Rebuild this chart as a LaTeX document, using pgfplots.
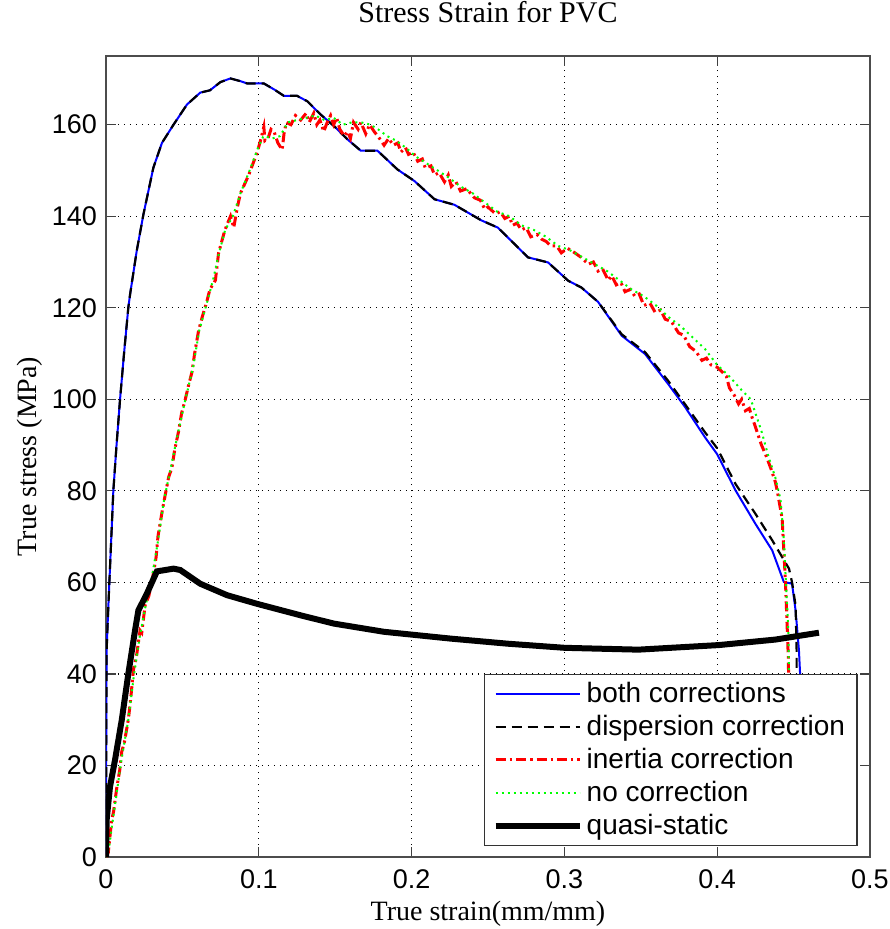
\documentclass[border=0pt]{standalone}
\usepackage{fontspec}
\setmainfont{Liberation Sans}
\newfontfamily\serif{Liberation Serif}
\usepackage{pgfplots}
\pgfplotsset{compat=1.18}

\begin{document}
\begin{tikzpicture}
\begin{axis}[
scale only axis,
width=382pt, height=400.5pt,
xmin=0, xmax=0.5, ymin=0, ymax=175,
xtick={0,0.1,0.2,0.3,0.4,0.5},
ytick={0,20,40,60,80,100,120,140,160},
xticklabels={0,0.1,0.2,0.3,0.4,0.5},
/pgf/number format/assume math mode=true,
tick align=inside,
major tick length=5pt,
tick style={draw=black!75, line width=0.6pt},
axis line style={draw=black!70, line width=0.7pt},
grid=major,
grid style={draw=black, line width=0.6pt, dash pattern=on 0.6pt off 2.4pt},
ticklabel style={font=\fontsize{13.5}{15}\selectfont},
xticklabel style={yshift=-3pt},
yticklabel style={xshift=-1pt},
title={\serif\fontsize{15}{17}\selectfont Stress Strain for PVC},
title style={at={(axis description cs:0.5,1.04)}, anchor=center},
xlabel={\serif\fontsize{14}{16}\selectfont True strain(mm/mm)},
ylabel={\serif\fontsize{14}{16}\selectfont True stress (MPa)},
xlabel style={at={(axis description cs:0.5,-0.071)}, anchor=center},
ylabel style={at={(axis description cs:-0.1,0.5)}, anchor=center},
legend style={at={(0.984,0.0137)}, anchor=south east, draw=black!80, line width=0.7pt,
  fill=white, font=\fontsize{14}{16}\selectfont, row sep=0.8pt, inner xsep=4pt, inner ysep=2pt,
  cells={anchor=west}},
legend image code/.code={\draw[#1] (0pt,0pt) -- (42pt,0pt);},
legend cell align=left,
clip=true,
]
% both corrections
\addplot[blue, line width=1pt] coordinates {
(0,0) (0.0002,30) (0.0004,45) (0.0012,52) (0.0022,60) (0.0035,70) (0.0048,80)
(0.0069,90) (0.0092,100) (0.0118,110) (0.0146,120) (0.0158,123) (0.0201,132.4)
(0.0245,140.4) (0.031,150.6) (0.0366,156) (0.0442,160) (0.053,164.4) (0.0617,167)
(0.068,167.5) (0.0749,169.3) (0.0814,170.1) (0.088,169.5) (0.0924,169) (0.1033,169)
(0.11,167.7) (0.1164,166.3) (0.125,166.3) (0.1318,165.1) (0.1405,162.2) (0.1492,159.7)
(0.158,156.8) (0.1668,154.3) (0.1777,154.3) (0.1908,150.2) (0.2018,147.7) (0.215,143.7)
(0.228,142.5) (0.2456,139.1) (0.2565,137.5) (0.2674,133.9) (0.2762,131) (0.2893,129.9)
(0.3025,125.9) (0.3112,124.4) (0.322,121.3) (0.3375,113.9) (0.3528,109.9) (0.368,103.3)
(0.379,98.3) (0.392,91.7) (0.4,88) (0.412,80.1) (0.425,72.8) (0.436,67) (0.4436,60.1)
(0.449,59.7) (0.4513,53.9) (0.4535,45.2) (0.455,35)
};
\addlegendentry{both corrections}
% dispersion correction
\addplot[black, line width=1.1pt, dash pattern=on 5pt off 3pt] coordinates {
(0,0) (0.0002,30) (0.0004,45) (0.0012,52) (0.0022,60) (0.0035,70) (0.0048,80)
(0.0069,90) (0.0092,100) (0.0118,110) (0.0146,120) (0.0158,123) (0.0201,132.4)
(0.0245,140.4) (0.031,150.6) (0.0366,156) (0.0442,160) (0.053,164.4) (0.0617,167)
(0.068,167.5) (0.0749,169.3) (0.0814,170.1) (0.088,169.5) (0.0924,169) (0.1033,169)
(0.11,167.7) (0.1164,166.3) (0.125,166.3) (0.1318,165.1) (0.1405,162.2) (0.1492,159.7)
(0.158,156.8) (0.1668,154.3) (0.1777,154.3) (0.1908,150.2) (0.2018,147.7) (0.215,143.7)
(0.228,142.5) (0.2456,139.1) (0.2565,137.5) (0.2674,133.9) (0.2762,131) (0.2893,129.9)
(0.3025,125.9) (0.3112,124.4) (0.322,121.3) (0.3375,114.2) (0.3528,110.3) (0.368,104)
(0.379,98.9) (0.392,92.8) (0.4,89.3) (0.412,81.5) (0.425,75) (0.436,69.2) (0.447,63)
(0.449,60) (0.4513,55) (0.452,45) (0.452,35)
};
\addlegendentry{dispersion correction}
% inertia correction
\addplot[red, line width=1.5pt, dash pattern=on 5pt off 2pt on 1.2pt off 2pt] coordinates {
(0,0) (0.0015,1) (0.0037,8) (0.005,10) (0.007,15) (0.009,19) (0.0103,23) (0.012,25)
(0.0146,30) (0.016,34) (0.018,41) (0.020,44) (0.0223,49.5) (0.0234,49) (0.0256,55)
(0.028,57) (0.030,60) (0.0328,65.5) (0.034,70) (0.0355,73) (0.037,76) (0.0387,79)
(0.041,83) (0.0431,85) (0.045,89) (0.0475,93) (0.0495,97) (0.0519,100) (0.054,103)
(0.0563,106) (0.058,110) (0.0606,115) (0.063,118) (0.0657,121) (0.068,124) (0.0716,126)
(0.0737,132) (0.077,136) (0.079,138) (0.0815,140) (0.0836,137.5) (0.086,142) (0.088,145)
(0.0934,149) (0.099,154)
(0.1015,157) (0.1033,159.5) (0.104,156.5) (0.106,157) (0.108,159) (0.110,158.5)
(0.1125,156) (0.1153,154.5) (0.1165,158) (0.118,160.5) (0.121,160) (0.124,162)
(0.1274,161) (0.131,162.5) (0.133,160.5) (0.136,162.5) (0.138,160) (0.140,161)
(0.1425,158.5) (0.1448,160.5) (0.147,162) (0.149,160) (0.151,161.5) (0.153,159)
(0.156,157.5) (0.158,158.5) (0.160,157) (0.162,160.5) (0.165,159) (0.1668,160.5)
(0.170,158) (0.1725,160) (0.1755,158.5) (0.179,157) (0.182,155.5) (0.185,157)
(0.188,155.5) (0.191,156) (0.193,154) (0.196,155) (0.198,153.5) (0.201,154)
(0.204,152) (0.207,152.5) (0.209,150.5) (0.2127,151) (0.215,149) (0.218,149.5)
(0.2215,147.5) (0.224,149) (0.226,146.5) (0.229,147.5) (0.232,145.5) (0.236,146)
(0.2412,144) (0.245,143.5) (0.248,141.5) (0.25,142) (0.255,140.5) (0.258,141)
(0.261,139.5) (0.264,140) (0.266,138) (0.269,138.5) (0.2718,137) (0.275,137.5)
(0.278,135.5) (0.282,136) (0.285,135) (0.288,134.5) (0.291,133.5) (0.295,133.5)
(0.298,132) (0.302,133) (0.3068,132) (0.311,131) (0.3156,129.5) (0.319,130)
(0.322,128) (0.325,128.5) (0.3287,126) (0.331,127) (0.334,125) (0.337,125.5)
(0.3397,123.5) (0.343,124) (0.3462,122.5) (0.349,123) (0.352,120.5) (0.356,121)
(0.3594,119) (0.363,119.5) (0.366,117.5) (0.370,117) (0.3747,114.5) (0.378,114)
(0.382,111.5) (0.386,110.5) (0.390,108.5) (0.393,109) (0.396,107.5) (0.400,107)
(0.4032,106) (0.406,105) (0.408,102.5) (0.411,101) (0.414,99) (0.416,100)
(0.4185,97.5) (0.421,98) (0.4229,96) (0.425,94) (0.427,92) (0.429,90) (0.4316,88)
(0.435,85) (0.438,82) (0.4393,80) (0.4425,74) (0.4436,67) (0.4447,60) (0.4465,44)
(0.447,35)
};
\addlegendentry{inertia correction}
% no correction
\addplot[green, line width=1pt, dash pattern=on 1pt off 2pt] coordinates {
(0,0) (0.002,2) (0.004,7) (0.007,14) (0.010,21) (0.0146,30) (0.018,39) (0.022,48)
(0.026,55) (0.030,61) (0.034,69) (0.038,78) (0.043,86) (0.048,94) (0.052,100) (0.057,107)
(0.061,115) (0.066,121) (0.070,126) (0.074,132) (0.078,137) (0.083,140) (0.088,145)
(0.094,150) (0.099,154.5) (0.103,157.5) (0.109,157) (0.114,157.5) (0.119,160.5) (0.125,161)
(0.131,161.5) (0.137,162) (0.143,161) (0.149,161.5) (0.155,160) (0.161,160.5) (0.167,160.5)
(0.173,160) (0.178,159) (0.184,157.5) (0.190,156.5) (0.196,155) (0.203,153) (0.210,151.5)
(0.217,150) (0.224,148.5) (0.232,146.5) (0.240,145) (0.248,143) (0.256,141) (0.264,140)
(0.272,138) (0.280,137) (0.288,135.5) (0.296,133.5) (0.304,132.5) (0.312,131) (0.320,129.5)
(0.328,128) (0.336,126) (0.344,124) (0.352,122.5) (0.360,120.5) (0.368,118) (0.376,116)
(0.384,113.5) (0.392,111) (0.400,107.5) (0.408,105) (0.416,102) (0.422,100) (0.429,93)
(0.434,87) (0.438,83) (0.4415,78) (0.4435,70) (0.445,60) (0.4465,50) (0.447,40)
};
\addlegendentry{no correction}
% quasi-static
\addplot[black, line width=3pt] coordinates {
(0,0) (0.0004,8) (0.0026,15.3) (0.0059,21.2) (0.0103,29.9) (0.0146,40) (0.019,49.5)
(0.0212,53.9) (0.0267,57.5) (0.0333,62.4) (0.0442,63) (0.0486,62.7) (0.0617,59.7)
(0.0792,57.2) (0.099,55.3) (0.1274,52.8) (0.149,51) (0.182,49.2) (0.226,47.7)
(0.263,46.6) (0.3003,45.7) (0.3484,45.3) (0.401,46.3) (0.438,47.5) (0.4666,49)
};
\addlegendentry{quasi-static}
\end{axis}
\pgfresetboundingbox
\useasboundingbox ([shift={(-53pt,-36pt)}]current axis.south west) rectangle ([shift={(10pt,28pt)}]current axis.north east);
\end{tikzpicture}
\end{document}
